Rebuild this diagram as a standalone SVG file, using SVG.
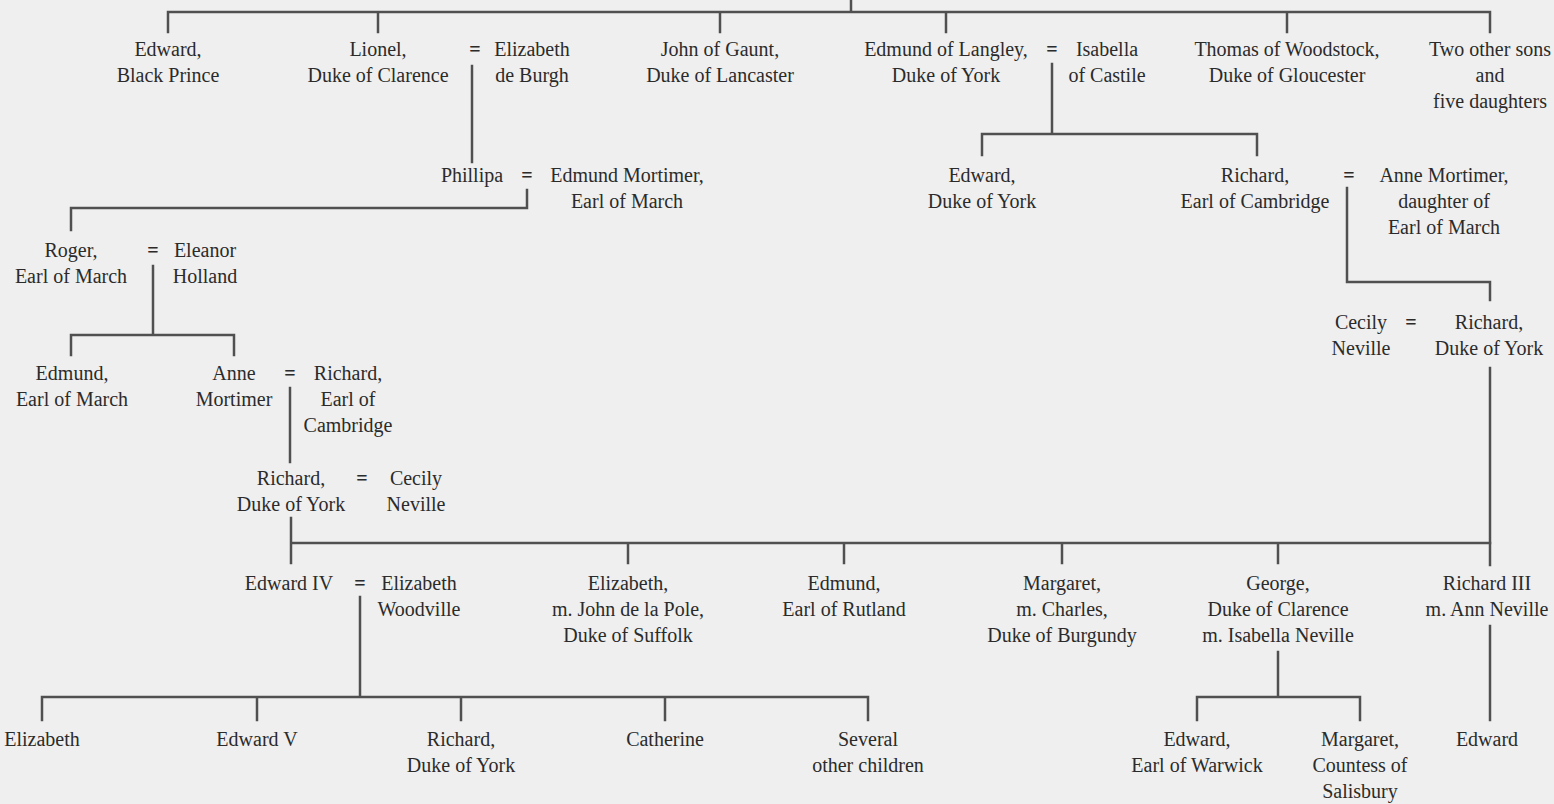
<svg xmlns="http://www.w3.org/2000/svg" width="1554" height="804" viewBox="0 0 1554 804">
<style>
.t{font-family:"Liberation Serif","Times New Roman",serif;font-size:20px;fill:#2b2b2b;text-anchor:middle}
.eq{font-family:"Liberation Serif","Times New Roman",serif;font-size:20px;fill:#2b2b2b;text-anchor:middle;font-weight:bold}
.c{fill:none;stroke:#505050;stroke-width:2.5;stroke-linecap:square}
</style>
<rect x="0" y="0" width="1554" height="804" fill="#efefef"/>
<g id="connectors" class="c">
<path d="M851 0V12M168 12H1490M168 12V32M378 12V32M720 12V32M946 12V32M1287 12V32M1490 12V32"/>
<path d="M472 66V162"/>
<path d="M527 190V208M71 208H527M71 208V230"/>
<path d="M153 266V335M71 335H234M71 335V355M234 335V355"/>
<path d="M290 388V462"/>
<path d="M291 518V563M291 543H1490M628 543V563M844 543V563M1062 543V563M1278 543V563"/>
<path d="M1052 64V134M982 134H1257M982 134V155M1257 134V155"/>
<path d="M1347 188V282H1490V300"/>
<path d="M1490 368V565"/>
<path d="M360 597V697M42 697H868M42 697V720M257 697V720M461 697V720M665 697V720M868 697V720"/>
<path d="M1278 652V697M1197 697H1360M1197 697V720M1360 697V720"/>
<path d="M1490 626V720"/>
</g>
<g id="edward-black-prince"><text class="t" x="168" y="56">Edward,</text><text class="t" x="168" y="82">Black Prince</text></g>
<g id="lionel"><text class="t" x="378" y="56">Lionel,</text><text class="t" x="378" y="82">Duke of Clarence</text></g>
<g id="m-lionel"><text class="eq" x="475" y="56">=</text></g>
<g id="elizabeth-de-burgh"><text class="t" x="532" y="56">Elizabeth</text><text class="t" x="532" y="82">de Burgh</text></g>
<g id="john-of-gaunt"><text class="t" x="720" y="56">John of Gaunt,</text><text class="t" x="720" y="82">Duke of Lancaster</text></g>
<g id="edmund-of-langley"><text class="t" x="946" y="56">Edmund of Langley,</text><text class="t" x="946" y="82">Duke of York</text></g>
<g id="m-edmund"><text class="eq" x="1052" y="56">=</text></g>
<g id="isabella-of-castile"><text class="t" x="1107" y="56">Isabella</text><text class="t" x="1107" y="82">of Castile</text></g>
<g id="thomas-of-woodstock"><text class="t" x="1287" y="56">Thomas of Woodstock,</text><text class="t" x="1287" y="82">Duke of Gloucester</text></g>
<g id="other-children-edward-iii"><text class="t" x="1490" y="56">Two other sons</text><text class="t" x="1490" y="82">and</text><text class="t" x="1490" y="108">five daughters</text></g>

<g id="phillipa"><text class="t" x="472" y="182">Phillipa</text></g>
<g id="m-phillipa"><text class="eq" x="527" y="182">=</text></g>
<g id="edmund-mortimer"><text class="t" x="627" y="182">Edmund Mortimer,</text><text class="t" x="627" y="208">Earl of March</text></g>
<g id="edward-duke-of-york"><text class="t" x="982" y="182">Edward,</text><text class="t" x="982" y="208">Duke of York</text></g>
<g id="richard-earl-of-cambridge-r"><text class="t" x="1255" y="182">Richard,</text><text class="t" x="1255" y="208">Earl of Cambridge</text></g>
<g id="m-richard-anne"><text class="eq" x="1349" y="182">=</text></g>
<g id="anne-mortimer-r"><text class="t" x="1444" y="182">Anne Mortimer,</text><text class="t" x="1444" y="208">daughter of</text><text class="t" x="1444" y="234">Earl of March</text></g>

<g id="roger"><text class="t" x="71" y="257">Roger,</text><text class="t" x="71" y="283">Earl of March</text></g>
<g id="m-roger"><text class="eq" x="153" y="257">=</text></g>
<g id="eleanor-holland"><text class="t" x="205" y="257">Eleanor</text><text class="t" x="205" y="283">Holland</text></g>

<g id="cecily-neville-r"><text class="t" x="1361" y="329">Cecily</text><text class="t" x="1361" y="355">Neville</text></g>
<g id="m-cecily-r"><text class="eq" x="1411" y="329">=</text></g>
<g id="richard-duke-of-york-r"><text class="t" x="1489" y="329">Richard,</text><text class="t" x="1489" y="355">Duke of York</text></g>

<g id="edmund-earl-of-march"><text class="t" x="72" y="380">Edmund,</text><text class="t" x="72" y="406">Earl of March</text></g>
<g id="anne-mortimer-l"><text class="t" x="234" y="380">Anne</text><text class="t" x="234" y="406">Mortimer</text></g>
<g id="m-anne"><text class="eq" x="290" y="380">=</text></g>
<g id="richard-earl-of-cambridge-l"><text class="t" x="348" y="380">Richard,</text><text class="t" x="348" y="406">Earl of</text><text class="t" x="348" y="432">Cambridge</text></g>

<g id="richard-duke-of-york-l"><text class="t" x="291" y="485">Richard,</text><text class="t" x="291" y="511">Duke of York</text></g>
<g id="m-richard-cecily"><text class="eq" x="362" y="485">=</text></g>
<g id="cecily-neville-l"><text class="t" x="416" y="485">Cecily</text><text class="t" x="416" y="511">Neville</text></g>

<g id="edward-iv"><text class="t" x="289" y="590">Edward IV</text></g>
<g id="m-edward-iv"><text class="eq" x="360" y="590">=</text></g>
<g id="elizabeth-woodville"><text class="t" x="419" y="590">Elizabeth</text><text class="t" x="419" y="616">Woodville</text></g>
<g id="elizabeth-suffolk"><text class="t" x="628" y="590">Elizabeth,</text><text class="t" x="628" y="616">m. John de la Pole,</text><text class="t" x="628" y="642">Duke of Suffolk</text></g>
<g id="edmund-rutland"><text class="t" x="844" y="590">Edmund,</text><text class="t" x="844" y="616">Earl of Rutland</text></g>
<g id="margaret-burgundy"><text class="t" x="1062" y="590">Margaret,</text><text class="t" x="1062" y="616">m. Charles,</text><text class="t" x="1062" y="642">Duke of Burgundy</text></g>
<g id="george-clarence"><text class="t" x="1278" y="590">George,</text><text class="t" x="1278" y="616">Duke of Clarence</text><text class="t" x="1278" y="642">m. Isabella Neville</text></g>
<g id="richard-iii"><text class="t" x="1487" y="590">Richard III</text><text class="t" x="1487" y="616">m. Ann Neville</text></g>

<g id="elizabeth-of-york"><text class="t" x="42" y="746">Elizabeth</text></g>
<g id="edward-v"><text class="t" x="257" y="746">Edward V</text></g>
<g id="richard-duke-of-york-b"><text class="t" x="461" y="746">Richard,</text><text class="t" x="461" y="772">Duke of York</text></g>
<g id="catherine"><text class="t" x="665" y="746">Catherine</text></g>
<g id="several-other-children"><text class="t" x="868" y="746">Several</text><text class="t" x="868" y="772">other children</text></g>
<g id="edward-warwick"><text class="t" x="1197" y="746">Edward,</text><text class="t" x="1197" y="772">Earl of Warwick</text></g>
<g id="margaret-salisbury"><text class="t" x="1360" y="746">Margaret,</text><text class="t" x="1360" y="772">Countess of</text><text class="t" x="1360" y="798">Salisbury</text></g>
<g id="edward-son-of-richard-iii"><text class="t" x="1487" y="746">Edward</text></g>
</svg>
